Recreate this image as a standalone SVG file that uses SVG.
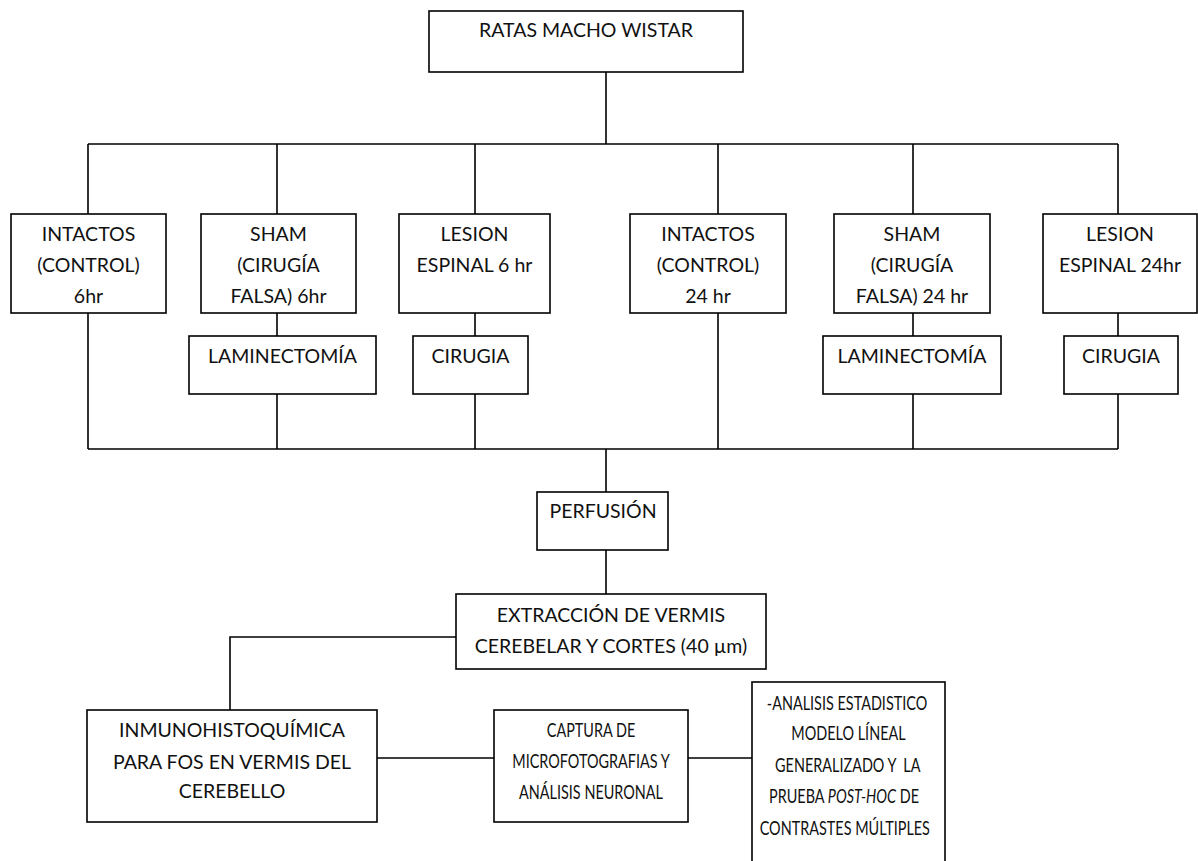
<svg xmlns="http://www.w3.org/2000/svg" width="1198" height="861" viewBox="0 0 1198 861">
<style>
.box{fill:#fff;stroke:#000;stroke-width:1.6}
.ln{fill:none;stroke:#000;stroke-width:1.6}
text{font-family:Lato,"Liberation Sans",sans-serif;font-size:19.5px;fill:#111;text-anchor:middle}
</style>
<rect width="1198" height="861" fill="#fff"/>
<g id="connectors">
<path class="ln" d="M606 72V144M88 144H1118M88 144V214M277 144V214M475 144V214M718 144V214M913 144V214M1118 144V214"/>
<path class="ln" d="M88 313V449M277 313V336M277 394V449M475 313V336M475 394V449M718 313V449M913 313V336M913 394V449M1118 313V336M1118 394V449M88 449H1118"/>
<path class="ln" d="M606 449V492M606 550V594M456 637H230V710M377 758H494M688 758H752"/>
</g>
<g id="n-ratas"><rect class="box" x="429" y="11" width="314" height="61"/><text x="586" y="37">RATAS MACHO WISTAR</text></g>
<g id="n-intactos6"><rect class="box" x="11" y="214" width="155" height="99"/><text x="88.5" y="241">INTACTOS</text><text x="88.5" y="272">(CONTROL)</text><text x="88.5" y="303">6hr</text></g>
<g id="n-sham6"><rect class="box" x="201" y="214" width="155" height="99"/><text x="278.5" y="241">SHAM</text><text x="278.5" y="272">(CIRUGÍA</text><text x="278.5" y="303">FALSA) 6hr</text></g>
<g id="n-lesion6"><rect class="box" x="399" y="214" width="151" height="99"/><text x="474.5" y="241">LESION</text><text x="474.5" y="272">ESPINAL 6 hr</text></g>
<g id="n-intactos24"><rect class="box" x="630" y="214" width="156" height="99"/><text x="708" y="241">INTACTOS</text><text x="708" y="272">(CONTROL)</text><text x="708" y="303">24 hr</text></g>
<g id="n-sham24"><rect class="box" x="834" y="214" width="156" height="99"/><text x="912" y="241">SHAM</text><text x="912" y="272">(CIRUGÍA</text><text x="912" y="303">FALSA) 24 hr</text></g>
<g id="n-lesion24"><rect class="box" x="1043" y="214" width="154" height="99"/><text x="1120" y="241">LESION</text><text x="1120" y="272">ESPINAL 24hr</text></g>
<g id="n-lam6"><rect class="box" x="189" y="336" width="187" height="58"/><text x="282.5" y="363">LAMINECTOMÍA</text></g>
<g id="n-cir6"><rect class="box" x="413" y="336" width="115" height="58"/><text x="470.5" y="363">CIRUGIA</text></g>
<g id="n-lam24"><rect class="box" x="823" y="336" width="178" height="58"/><text x="912" y="363">LAMINECTOMÍA</text></g>
<g id="n-cir24"><rect class="box" x="1064" y="336" width="114" height="58"/><text x="1121" y="363">CIRUGIA</text></g>
<g id="n-perfusion"><rect class="box" x="537" y="492" width="131" height="58"/><text x="603" y="518">PERFUSIÓN</text></g>
<g id="n-extraccion"><rect class="box" x="456" y="594" width="310" height="75"/><text x="611" y="622">EXTRACCIÓN DE VERMIS</text><text x="611" y="653">CEREBELAR Y CORTES (40 µm)</text></g>
<g id="n-inmuno"><rect class="box" x="87" y="710" width="290" height="112"/><text x="232" y="737">INMUNOHISTOQUÍMICA</text><text x="232" y="769">PARA FOS EN VERMIS DEL</text><text x="232" y="798">CEREBELLO</text></g>
<g id="n-captura"><rect class="box" x="494" y="710" width="194" height="112"/><g transform="translate(591 0) scale(0.74 1)"><text x="0" y="737">CAPTURA DE</text><text x="0" y="768">MICROFOTOGRAFIAS Y</text><text x="0" y="799">ANÁLISIS NEURONAL</text></g></g>
<g id="n-analisis"><rect class="box" x="752" y="682" width="193" height="190"/><g transform="translate(848.5 0) scale(0.74 1)"><text x="-2" y="710">-ANALISIS ESTADISTICO</text><text x="0" y="740">MODELO LÍNEAL</text><text x="-1" y="772" xml:space="preserve">GENERALIZADO Y  LA</text><text x="-6" y="803">PRUEBA <tspan font-style="italic">POST-HOC</tspan> DE</text><text x="-5" y="835">CONTRASTES MÚLTIPLES</text></g></g>
</svg>
